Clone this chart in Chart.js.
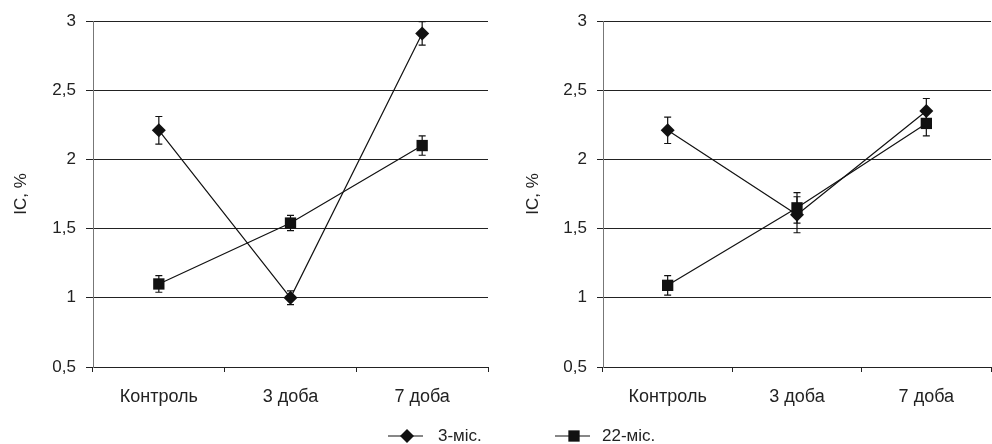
<!DOCTYPE html>
<html>
<head>
<meta charset="utf-8">
<script src="https://cdn.jsdelivr.net/npm/chart.js@4.4.0/dist/chart.umd.min.js"></script>
<style>
html, body { margin: 0; padding: 0; background: #fff; overflow: hidden; }
#wrap { position: relative; width: 992px; height: 444px; overflow: hidden; }
#c1 { position: absolute; left: 0; top: 0; }
#c2 { position: absolute; left: 496px; top: 0; }
</style>
</head>
<body>
<div id="wrap">
  <canvas id="c1" width="496" height="444"></canvas>
  <canvas id="c2" width="503" height="444"></canvas>
</div>
<script>
// categories and series
var categories = ['Контроль', '3 доба', '7 доба'];
var seriesNames = ['3-міс.', '22-міс.'];
var yMin = 0.5, yMax = 3, yStep = 0.5;

// left panel
var left3m = [2.21, 1.00, 2.91];
var left3mErr = [0.10, 0.05, 0.085];
var left22m = [1.10, 1.54, 2.10];
var left22mErr = [0.06, 0.055, 0.07];

// right panel
var right3m = [2.21, 1.60, 2.35];
var right3mErr = [0.095, 0.13, 0.09];
var right22m = [1.09, 1.65, 2.26];
var right22mErr = [0.07, 0.11, 0.09];

Chart.defaults.font.family = '"Liberation Sans", Arial, sans-serif';
Chart.defaults.font.size = 17;
Chart.defaults.color = '#222';

// whiskers, drawn under the markers
var errorBars = {
    id: 'errorBars',
    beforeDatasetsDraw: function(chart) {
        var ctx = chart.ctx;
        var ys = chart.scales.y;
        ctx.save();
        ctx.strokeStyle = '#111';
        ctx.lineWidth = 1.2;
        chart.data.datasets.forEach(function(ds, i) {
            var meta = chart.getDatasetMeta(i);
            meta.data.forEach(function(pt, j) {
                var v = ds.data[j], e = ds.errors[j];
                var t = ys.getPixelForValue(v + e);
                var b = ys.getPixelForValue(v - e);
                ctx.beginPath();
                ctx.moveTo(pt.x, t); ctx.lineTo(pt.x, b);
                ctx.moveTo(pt.x - 3.5, t); ctx.lineTo(pt.x + 3.5, t);
                ctx.moveTo(pt.x - 3.5, b); ctx.lineTo(pt.x + 3.5, b);
                ctx.stroke();
            });
        });
        ctx.restore();
    }
};

// legend entry: line + marker + label
var lineLegend = {
    id: 'lineLegend',
    afterDraw: function(chart, args, opts) {
        var ds = chart.data.datasets[opts.index];
        var ctx = chart.ctx;
        ctx.save();
        ctx.strokeStyle = '#111';
        ctx.fillStyle = '#111';
        ctx.lineWidth = 1.2;
        ctx.beginPath();
        ctx.moveTo(opts.x0, opts.y);
        ctx.lineTo(opts.x1, opts.y);
        ctx.stroke();
        Chart.helpers.drawPoint(ctx, { pointStyle: ds.pointStyle, radius: ds.pointRadius, borderWidth: 0, rotation: 0 }, opts.mx, opts.y);
        ctx.fillStyle = '#222';
        ctx.font = '17px "Liberation Sans", Arial, sans-serif';
        ctx.textBaseline = 'middle';
        ctx.fillText(ds.label, opts.tx, opts.y);
        ctx.restore();
    }
};

function makeChart(id, d3, e3, d22, e22, axisW, titlePad, tickPad, tickLen, padRight, legend) {
    var ctx = document.getElementById(id).getContext('2d');
    return new Chart(ctx, {
        type: 'line',
        data: {
            labels: categories,
            datasets: [{
                label: seriesNames[1],
                data: d22,
                errors: e22,
                borderColor: '#111',
                borderWidth: 1.2,
                backgroundColor: '#111',
                pointStyle: 'rect',
                pointRadius: 8,
                pointBorderWidth: 0,
                pointBackgroundColor: '#111'
            }, {
                label: seriesNames[0],
                data: d3,
                errors: e3,
                borderColor: '#111',
                borderWidth: 1.2,
                backgroundColor: '#111',
                pointStyle: 'rectRot',
                pointRadius: 7,
                pointBorderWidth: 0,
                pointBackgroundColor: '#111'
            }]
        },
        options: {
            responsive: false,
            animation: false,
            layout: { padding: { top: 21, right: padRight, left: 0, bottom: 0 } },
            plugins: {
                legend: { display: false },
                tooltip: { enabled: false },
                lineLegend: legend
            },
            scales: {
                x: {
                    offset: true,
                    grid: { offset: true, drawOnChartArea: false, drawTicks: true, tickLength: 5, color: '#222' },
                    border: { display: true, color: '#222', width: 1 },
                    ticks: { padding: 14, color: '#222', font: { size: 18 } },
                    afterFit: function(s) { s.height = 77; }
                },
                y: {
                    min: yMin,
                    max: yMax,
                    ticks: {
                        stepSize: yStep,
                        padding: tickPad,
                        color: '#222',
                        callback: function(v) { return String(v).replace('.', ','); }
                    },
                    grid: { color: '#222', lineWidth: 1, tickLength: tickLen },
                    border: { display: true, color: '#777', width: 1 },
                    title: { display: true, text: 'IC, %', color: '#222', padding: { top: titlePad, bottom: 0 } },
                    afterFit: function(s) { s.width = axisW; }
                }
            }
        },
        plugins: [errorBars, lineLegend]
    });
}

makeChart('c1', left3m, left3mErr, left22m, left22mErr, 93, 11, 10, 7, 8,
    { index: 1, y: 436, x0: 388, x1: 423, mx: 407, tx: 438 });
makeChart('c2', right3m, right3mErr, right22m, right22mErr, 107, 27, 10, 6, 0,
    { index: 0, y: 436, x0: 59, x1: 94, mx: 78, tx: 106 });
</script>
</body>
</html>
